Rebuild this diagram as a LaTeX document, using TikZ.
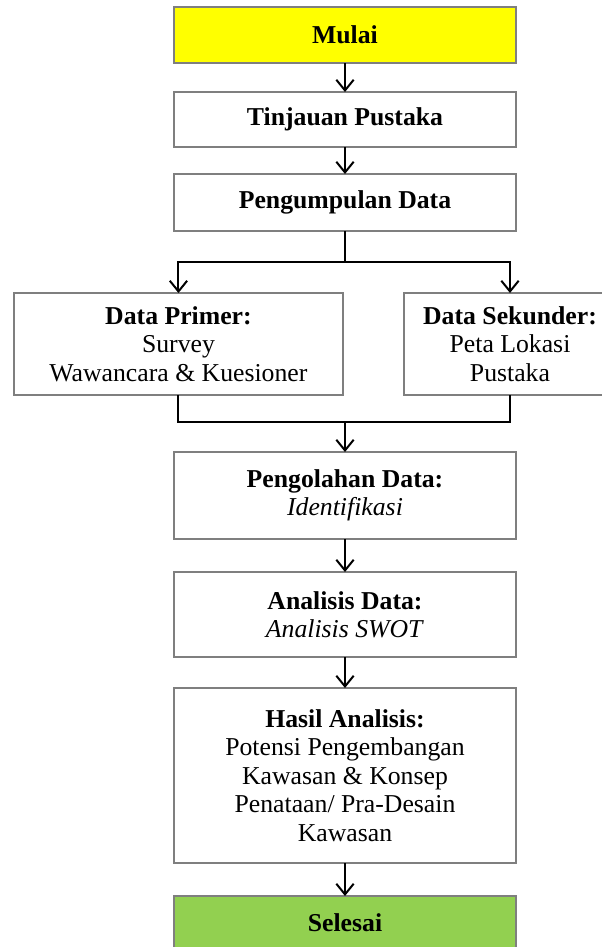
\documentclass[tikz,border=0pt]{standalone}
\usepackage{fontspec}
\setmainfont{Liberation Serif}
\usepackage{tikz}
\usetikzlibrary{arrows.meta,positioning}
\definecolor{mulaiyellow}{HTML}{FFFF00}
\definecolor{selesaigreen}{HTML}{92D050}
\definecolor{boxgray}{HTML}{7F7F7F}
\tikzstyle{pbox}=[rectangle, draw=boxgray, line width=1.5pt, fill=white, minimum width=256.5pt, align=center, outer sep=0pt, inner sep=2pt, font=\fontsize{19.3}{21.3}\selectfont]
\tikzstyle{dbox}=[pbox, minimum height=76.5pt]
\tikzstyle{ln}=[line width=1.5pt, black]
\tikzstyle{ar}=[ln, -{Straight Barb[length=8pt,width=13pt]}]

\begin{document}
\begin{tikzpicture}
[node distance=21pt]
 \useasboundingbox (0,0) rectangle (451.5pt,-710.25pt);
 \clip (0,0) rectangle (451.5pt,-710.25pt);
 \node[pbox, fill=mulaiyellow, minimum height=42pt] (mulai) at (258.75pt,-26.25pt) {\textbf{Mulai}};
 \node[pbox, minimum height=41.25pt] (tinjau) [below=21.75pt of mulai] {\textbf{Tinjauan Pustaka}};
 \node[pbox, minimum height=42.75pt] (kumpul) [below=20.25pt of tinjau] {\textbf{Pengumpulan Data}};
 \node[dbox, minimum width=246.75pt] (primer) [below=46.5pt of kumpul, xshift=-124.9pt]
   {\textbf{Data Primer:}\\ Survey\\ Wawancara \& Kuesioner};
 \node[dbox, minimum width=159pt] (sekunder) [below=46.5pt of kumpul, xshift=123.75pt]
   {\textbf{Data Sekunder:}\\ Peta Lokasi\\ Pustaka};
 \coordinate[below=23.25pt of kumpul] (split);
 \coordinate (mid) at (primer.south -| kumpul.south);
 \coordinate[below=20.25pt of mid] (merge);
 \node[pbox, minimum height=65.25pt] (olah) [below=22.5pt of merge]
   {\textbf{Pengolahan Data:}\\ \textit{Identifikasi}};
 \node[pbox, minimum height=63.75pt] (analisis) [below=24.75pt of olah]
   {\textbf{Analisis Data:}\\ \textit{Analisis SWOT}};
 \node[pbox, minimum height=131.25pt] (hasil) [below=23.25pt of analisis]
   {\textbf{Hasil Analisis:}\\ Potensi Pengembangan\\ Kawasan \& Konsep\\ Penataan/ Pra-Desain\\ Kawasan};
 \node[pbox, fill=selesaigreen, minimum height=40.5pt] (selesai) [below=24.75pt of hasil] {\textbf{Selesai}};
 \path[ar]
   (mulai) edge (tinjau)
   (tinjau) edge (kumpul)
   (olah) edge (analisis)
   (analisis) edge (hasil)
   (hasil) edge (selesai);
 \draw[ln] (kumpul) -- (split);
 \draw[ar] (split) -| (primer);
 \draw[ar] (split) -| (sekunder);
 \draw[ln] (primer) |- (merge) -| (sekunder);
 \draw[ar] (merge) -- (olah);
\end{tikzpicture}
\end{document}
